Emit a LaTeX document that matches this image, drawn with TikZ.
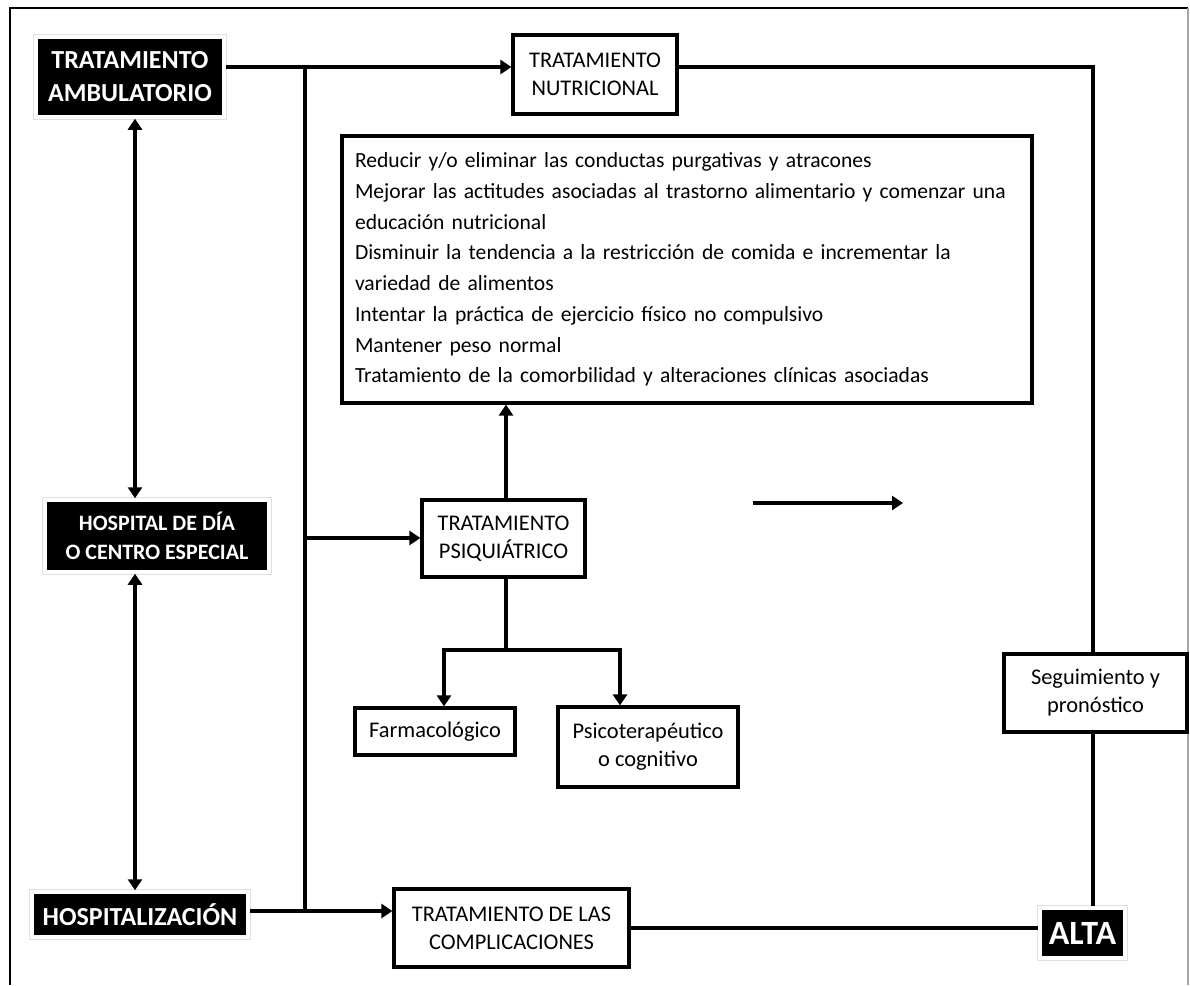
\documentclass[tikz,border=0pt]{standalone}
\usepackage{fontspec}
\setmainfont{Carlito}
\usetikzlibrary{arrows.meta}
\tikzset{
  blk/.style={fill=black, text=white, font=\bfseries, inner sep=0pt, align=center,
    preaction={draw=black!12, line width=6pt}, draw=white, line width=3.5pt},
  wbox/.style={draw=black, line width=3.2pt, fill=white, inner sep=0pt, align=center,
    font=\fontsize{22.4}{28}\selectfont},
  conn/.style={line width=3.4pt},
  arr/.style={conn, -{Triangle[length=11pt,width=14pt]}},
  darr/.style={conn, {Triangle[length=11pt,width=14pt]}-{Triangle[length=11pt,width=14pt]}},
}
\begin{document}
\begin{tikzpicture}[x=1pt,y=-1pt]
\useasboundingbox (0,0) rectangle (1190,985);
% frame
\draw[line width=2pt] (10,985) -- (10,8) -- (1188,8);
\draw[line width=1.5pt, black!35] (1188,8) -- (1188,985);

% black boxes
\node[blk, minimum width=188, minimum height=80, font=\fontsize{26}{33}\bfseries] (TA) at (130,77) {TRATAMIENTO\\AMBULATORIO};
\node[blk, minimum width=224, minimum height=72, font=\fontsize{22}{29}\bfseries] (HD) at (157,536) {HOSPITAL DE DÍA\\O CENTRO ESPECIAL};
\node[blk, minimum width=216, minimum height=45, font=\fontsize{26}{30}\bfseries] (HOSP) at (140,914.5) {HOSPITALIZACIÓN};
\node[blk, minimum width=85, minimum height=50, font=\fontsize{34}{38}\bfseries] (ALTA) at (1082.5,933) {ALTA};

% white boxes
\node[wbox, minimum width=164, minimum height=79] (NUT) at (595,74.5) {TRATAMIENTO\\NUTRICIONAL};
\node[wbox, minimum width=163, minimum height=77] (PSI) at (503.5,538.5) {TRATAMIENTO\\PSIQUIÁTRICO};
\node[wbox, minimum width=160, minimum height=47] (FAR) at (435,731.5) {Farmacológico};
\node[wbox, minimum width=180, minimum height=80] (PSIC) at (648,747) {Psicoterapéutico\\o cognitivo};
\node[wbox, minimum width=235, minimum height=78] (COMP) at (511.5,928) {TRATAMIENTO DE LAS\\COMPLICACIONES};
\node[wbox, minimum width=183, minimum height=78] (SEG) at (1095.5,693) {Seguimiento y\\pronóstico};
\node[wbox, minimum width=690, minimum height=267, text width=664, align=left,
  font=\fontsize{21.6}{30.7}\selectfont] (OBJ) at (687,269.5) {Reducir y/o eliminar las conductas purgativas y atracones\\
Mejorar las actitudes asociadas al trastorno alimentario y comenzar una\\
educación nutricional\\
Disminuir la tendencia a la restricción de comida e incrementar la\\
variedad de alimentos\\
Intentar la práctica de ejercicio físico no compulsivo\\
Mantener peso normal\\
Tratamiento de la comorbilidad y alteraciones clínicas asociadas};

% junction coordinates
\coordinate (jT) at (305,67);
\coordinate (jM) at (305,538);
\coordinate (jB) at (305,911);
\coordinate (cR) at (1093,67);
\coordinate (br) at (506,650);
\coordinate (bl) at (444,650);
\coordinate (bR) at (620,650);
\coordinate (dv) at (135,0);
\coordinate (s1) at (753,503);
\coordinate (s2) at (903,503);

% connectors
\draw[arr] (TA.east |- jT) -- (jT) -- (NUT.west |- jT);
\draw[conn] (jT) -- (jB);
\draw[arr] (jM) -- (PSI.west |- jM);
\draw[arr] (HOSP.east |- jB) -- (jB) -- (COMP.west |- jB);
\draw[conn] (NUT.east |- jT) -- (cR) -- (cR |- SEG.north);
\draw[conn] (SEG.south -| cR) -- (cR |- ALTA.north);
\draw[conn] (COMP.east) -- (COMP.east -| ALTA.west);
\draw[darr] (dv |- TA.south) -- (dv |- HD.north);
\draw[darr] (dv |- HD.south) -- (dv |- HOSP.north);
\draw[arr] (PSI.north -| br) -- (br |- OBJ.south);
\draw[conn] (PSI.south -| br) -- (br);
\draw[arr] (br) -- (bl) -- (bl |- FAR.north);
\draw[arr] (br) -- (bR) -- (bR |- PSIC.north);
\draw[arr] (s1) -- (s2);
\end{tikzpicture}
\end{document}
